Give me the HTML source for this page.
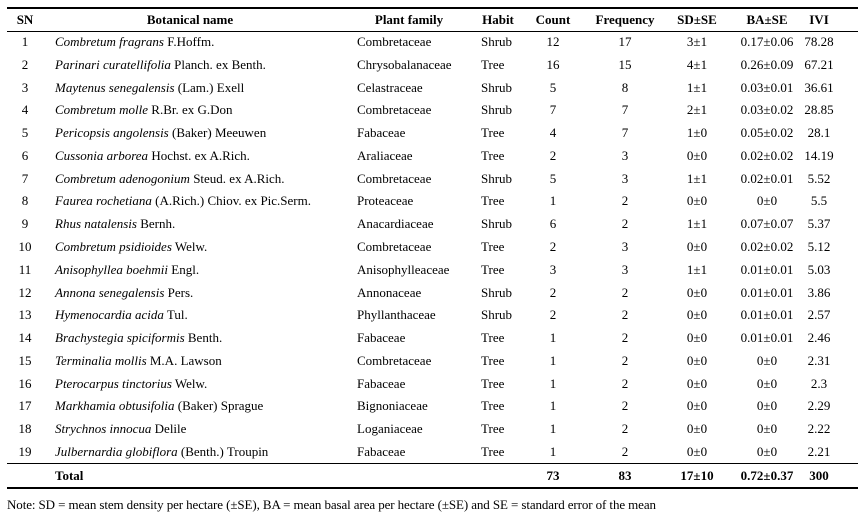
<!DOCTYPE html>
<html><head><meta charset="utf-8"><style>
body{margin:0;width:867px;height:518px;background:#fff;font-family:"Liberation Serif",serif;font-size:13px;color:#000;position:relative;overflow:hidden}
.l{position:absolute;left:7px;width:851px;background:#000}
.r{position:absolute;left:0;width:867px;height:16px;line-height:16px}
.r span{position:absolute;white-space:nowrap}
.c{transform:translateX(-50%)}
.h{font-weight:bold}
</style></head><body>
<div class="l" style="top:7px;height:2px"></div>
<div class="l" style="top:31px;height:1px"></div>
<div class="l" style="top:463px;height:1px"></div>
<div class="l" style="top:487px;height:2px"></div>
<div id="t"></div>
<div class="r" style="top:497px;font-size:13px"><span style="left:7px;letter-spacing:-0.1px">Note: SD = mean stem density per hectare (±SE), BA = mean basal area per hectare (±SE) and SE = standard error of the mean</span></div>
<script>
var rows=[
["1","Combretum fragrans","F.Hoffm.","Combretaceae","Shrub","12","17","3±1","0.17±0.06","78.28"],
["2","Parinari curatellifolia","Planch. ex Benth.","Chrysobalanaceae","Tree","16","15","4±1","0.26±0.09","67.21"],
["3","Maytenus senegalensis","(Lam.) Exell","Celastraceae","Shrub","5","8","1±1","0.03±0.01","36.61"],
["4","Combretum molle","R.Br. ex G.Don","Combretaceae","Shrub","7","7","2±1","0.03±0.02","28.85"],
["5","Pericopsis angolensis","(Baker) Meeuwen","Fabaceae","Tree","4","7","1±0","0.05±0.02","28.1"],
["6","Cussonia arborea","Hochst. ex A.Rich.","Araliaceae","Tree","2","3","0±0","0.02±0.02","14.19"],
["7","Combretum adenogonium","Steud. ex A.Rich.","Combretaceae","Shrub","5","3","1±1","0.02±0.01","5.52"],
["8","Faurea rochetiana","(A.Rich.) Chiov. ex Pic.Serm.","Proteaceae","Tree","1","2","0±0","0±0","5.5"],
["9","Rhus natalensis","Bernh.","Anacardiaceae","Shrub","6","2","1±1","0.07±0.07","5.37"],
["10","Combretum psidioides","Welw.","Combretaceae","Tree","2","3","0±0","0.02±0.02","5.12"],
["11","Anisophyllea boehmii","Engl.","Anisophylleaceae","Tree","3","3","1±1","0.01±0.01","5.03"],
["12","Annona senegalensis","Pers.","Annonaceae","Shrub","2","2","0±0","0.01±0.01","3.86"],
["13","Hymenocardia acida","Tul.","Phyllanthaceae","Shrub","2","2","0±0","0.01±0.01","2.57"],
["14","Brachystegia spiciformis","Benth.","Fabaceae","Tree","1","2","0±0","0.01±0.01","2.46"],
["15","Terminalia mollis","M.A. Lawson","Combretaceae","Tree","1","2","0±0","0±0","2.31"],
["16","Pterocarpus tinctorius","Welw.","Fabaceae","Tree","1","2","0±0","0±0","2.3"],
["17","Markhamia obtusifolia","(Baker) Sprague","Bignoniaceae","Tree","1","2","0±0","0±0","2.29"],
["18","Strychnos innocua","Delile","Loganiaceae","Tree","1","2","0±0","0±0","2.22"],
["19","Julbernardia globiflora","(Benth.) Troupin","Fabaceae","Tree","1","2","0±0","0±0","2.21"]];
var h='<div class="r h" style="top:12px"><span class="c" style="left:25px">SN</span><span class="c" style="left:190px">Botanical name</span><span class="c" style="left:409px">Plant family</span><span class="c" style="left:498px">Habit</span><span class="c" style="left:553px">Count</span><span class="c" style="left:625px">Frequency</span><span class="c" style="left:697px">SD±SE</span><span class="c" style="left:767px">BA±SE</span><span class="c" style="left:819px">IVI</span></div>';
rows.forEach(function(r,i){var y=34+i*22.78;
h+='<div class="r" style="top:'+y+'px"><span class="c" style="left:25px">'+r[0]+'</span><span style="left:55px"><i>'+r[1]+'</i> '+r[2]+'</span><span style="left:357px">'+r[3]+'</span><span style="left:481px">'+r[4]+'</span><span class="c" style="left:553px">'+r[5]+'</span><span class="c" style="left:625px">'+r[6]+'</span><span class="c" style="left:697px">'+r[7]+'</span><span class="c" style="left:767px">'+r[8]+'</span><span class="c" style="left:819px">'+r[9]+'</span></div>';});
h+='<div class="r h" style="top:468px"><span style="left:55px">Total</span><span class="c" style="left:553px">73</span><span class="c" style="left:625px">83</span><span class="c" style="left:697px">17±10</span><span class="c" style="left:767px">0.72±0.37</span><span class="c" style="left:819px">300</span></div>';
document.getElementById('t').innerHTML=h;
</script>
</body></html>
